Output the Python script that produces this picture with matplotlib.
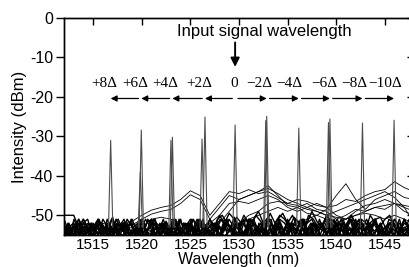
#optical spectra of the converted signals
#one spike per conversion order, noise floor and ASE humps underneath

import numpy as np
import matplotlib
matplotlib.use('Agg')
import matplotlib.pyplot as plt

plt.rcParams['font.family'] = ['Liberation Sans', 'DejaVu Sans']
plt.rcParams['axes.unicode_minus'] = False

#axis ranges
wl_min, wl_max = 1512, 1548
db_min, db_max = -55, 0

#converted signal peaks (nm, dBm)
peak_wl = [1516.8, 1519.95, 1523.15, 1526.5, 1529.6, 1532.85, 1536.15, 1539.35, 1542.7, 1545.95]
peak_db = [-31.0, -28.4, -30.2, -25.1, -27.1, -24.9, -27.9, -25.6, -26.6, -25.9]

#weaker peaks from the other traces sitting next to the main ones
peak2_wl = [1523.0, 1526.2, 1532.75, 1539.2, 1519.85]
peak2_db = [-31.0, -30.7, -26.0, -26.5, -39.0]

#order labels above the arrows
delta_labels = ['+8\u0394', '+6\u0394', '+4\u0394', '+2\u0394', '0',
                '\u22122\u0394', '\u22124\u0394', '\u22126\u0394', '\u22128\u0394', '\u221210\u0394']
delta_wl = [1516.15, 1519.35, 1522.4, 1525.9, 1529.5, 1532.1, 1535.2, 1538.75, 1541.85, 1545.05]

#noise floor traces, about 0.5 nm step from 1512 to 1548
noise_a = [-50, -50, -50, -53, -51, -54, -52, -55, -51, -53, -56, -52, -54, -51, -53, -55, -52, -54, -51, -56,
           -53, -52, -54, -51, -55, -53, -52, -56, -51, -54, -53, -52, -55, -51, -53, -54, -52, -56, -53, -51,
           -54, -52, -55, -53, -51, -54, -56, -52, -53, -51, -55, -52, -54, -53, -51, -56, -52, -54, -53, -51,
           -55, -52, -53, -54, -51, -56, -53, -52, -54, -51, -55, -53, -52]
noise_b = [-54, -52, -55, -51, -53, -52, -56, -51, -54, -53, -50.5, -55, -52, -53, -51, -54, -56, -52, -51, -53,
           -55, -51.5, -54, -52, -56, -53, -51, -55, -52, -54, -51, -53, -56, -52, -54, -50.5, -53, -55, -51, -52,
           -54, -56, -51, -53, -52, -55, -51, -54, -53, -56, -52, -51, -54, -53, -55, -51, -52, -56, -53, -54,
           -51, -55, -52, -53, -51, -54, -56, -52, -53, -55, -51, -54, -52]
noise_c = [-52, -55, -53, -51, -56, -52, -54, -51.5, -53, -55, -52, -51, -54, -56, -53, -52, -55, -51, -53, -54,
           -52, -56, -51, -55, -53, -52, -54, -51, -56, -53, -55, -52, -51, -54, -53, -56, -52, -51, -55, -53,
           -54, -52, -51, -56, -53, -55, -52, -54, -51, -53, -56, -52, -55, -51, -54, -53, -52, -56, -51, -55,
           -53, -54, -52, -51, -56, -53, -55, -52, -54, -51, -53, -56]
noise_d = [-55, -53, -52, -54, -51, -53, -55, -52, -56, -51, -54, -52, -53, -55, -51, -56, -52, -54, -53, -51,
           -55, -52, -54, -56, -51, -53, -52, -55, -54, -51, -56, -53, -52, -54, -51, -55, -52, -56, -53, -51,
           -54, -52, -55, -53, -56, -51, -52, -54, -53, -55, -51, -56, -52, -53, -54, -51, -55, -52, -56, -53,
           -51, -54, -52, -55, -53, -51, -56, -54, -52, -53, -55, -51, -54, -52]
noise_e = [-53, -56, -51, -54, -52, -55, -53, -51, -54, -56, -52, -53, -51, -55, -54, -52, -56, -53, -51, -54,
           -52, -55, -51, -53, -56, -52, -54, -51, -53, -55, -52, -56, -54, -51, -53, -52, -55, -51, -56, -54,
           -52, -53, -55, -51, -54, -52, -56, -53, -51, -55, -54, -52, -53, -56, -51, -54, -52, -55, -53, -51,
           -56, -52, -54, -53, -55, -51, -52, -56, -54, -53, -51]
noise_f = [-51, -54, -53, -56, -52, -51, -55, -53, -52, -54, -56, -51, -53, -52, -55, -54, -51, -53, -56, -52,
           -54, -51, -55, -52, -53, -56, -54, -51, -52, -55, -53, -54, -56, -51, -52, -53, -55, -54, -51, -56,
           -52, -53, -54, -51, -55, -52, -56, -53, -54, -51, -52, -55, -53, -56, -51, -54, -52, -53, -55, -51,
           -54, -56, -52, -53, -51, -55, -54, -52, -56, -53, -51, -54, -53, -55, -52]
noise_g = [-56, -53, -55, -52, -54, -56, -53, -51, -55, -52, -54, -53, -56, -52, -55, -53, -51, -54, -56, -52,
           -53, -55, -52, -54, -51, -56, -53, -55, -52, -54, -51, -53, -50, -52, -49.5, -51, -53, -50, -52, -51,
           -49, -52, -50.5, -53, -51, -49.5, -52, -50, -53, -51, -52, -49, -51.5, -53, -50, -52, -54, -51, -53,
           -50, -52, -51, -54, -50, -52, -53, -51, -50, -53, -52, -54, -51, -53]
noise_h = [-54, -56, -52, -55, -53, -54, -56, -52, -53, -55, -51, -54, -56, -53, -52, -55, -54, -51, -53, -56,
           -52, -54, -55, -53, -56, -52, -54, -51, -55, -53, -52, -54, -51, -50, -52, -53, -50.5, -52, -51, -53,
           -50, -51.5, -53, -49.5, -52, -50, -51, -53, -50.5, -52, -54, -50, -51, -53, -52, -50, -53, -51, -54,
           -52, -50, -53, -51, -52, -54, -51, -50.5, -53, -52, -51, -54, -52, -53, -51]
noise_i = [-55, -57, -53, -56, -54, -57, -52, -56, -55, -53, -57, -54, -56, -52, -55, -57, -53, -56, -54, -52,
           -57, -55, -53, -56, -54, -57, -52, -55, -56, -53, -57, -54, -52, -56, -55, -53, -57, -54, -56, -52,
           -55, -57, -53, -54, -56, -52, -57, -55, -53, -56, -54, -57, -52, -55, -56, -53, -57, -54, -55, -52,
           -56, -57, -53, -55, -54, -56, -52, -57, -55, -53, -56, -54, -57, -53, -55, -56, -52]
noise_j = [-57, -54, -56, -53, -57, -55, -52, -56, -54, -57, -53, -55, -56, -52, -57, -54, -55, -53, -56, -57,
           -52, -54, -56, -55, -53, -57, -54, -52, -56, -55, -57, -53, -54, -56, -52, -57, -55, -54, -53, -56,
           -57, -52, -55, -54, -56, -53, -57, -55, -52, -54, -56, -57, -53, -55, -54, -52, -56, -57, -54, -53,
           -55, -56, -52, -57, -54, -55, -53, -56, -57, -52, -54, -55, -56, -53, -57, -54, -55, -52, -56]
noise_k = [-53, -56, -55, -57, -52, -54, -57, -55, -53, -56, -54, -57, -52, -55, -56, -53, -57, -54, -55, -52,
           -56, -57, -54, -53, -55, -57, -52, -56, -54, -55, -57, -53, -56, -52, -54, -57, -55, -53, -56, -54,
           -52, -57, -55, -56, -53, -54, -57, -52, -55, -56, -54, -53, -57, -55, -52, -56, -54, -57, -53, -55,
           -56, -52, -54, -57, -55, -53, -56, -54, -57, -52, -55, -56, -53, -57, -54, -52, -56, -55, -57, -53,
           -54, -56, -52, -57]
noise_l = [-56, -52, -57, -54, -55, -53, -57, -56, -52, -54, -55, -57, -53, -56, -54, -52, -57, -55, -53, -56,
           -57, -54, -52, -55, -56, -53, -57, -54, -55, -52, -56, -57, -53, -54, -55, -56, -52, -57, -54, -53,
           -55, -56, -57, -52, -54, -55, -53, -56, -57, -52, -55, -54, -56, -53, -57, -55, -52, -54, -56, -57,
           -53, -55, -54, -52, -56, -57, -55, -53, -54, -56, -52, -57, -55, -53, -56, -54, -57, -52, -55, -56,
           -53, -57, -54, -55, -52, -56, -57, -53, -55]

#ASE humps, 1 nm step from 1512 to 1548
hump_a = [-54, -53, -54, -53, -52, -53, -52, -51.5, -50, -48.7, -48, -47.5, -46, -43.8, -45, -50, -47, -44, -44.5,
          -43.5, -44.5, -44, -45.5, -47, -47.5, -48.5, -49, -50, -50.5, -51, -50, -49, -48, -47.5, -47, -48, -49]
hump_b = [-55, -54, -53, -54, -53, -54, -53, -52.5, -51, -49.7, -49, -48.5, -47, -44.8, -46, -51, -48, -45, -46,
          -45, -44, -42.5, -45, -47.5, -48, -49.5, -50, -51, -52, -51, -50, -49.5, -50, -51, -50, -51, -52]
hump_c = [-54, -53, -54, -55, -53, -54, -53, -54, -55, -53, -54, -53, -54, -55, -53, -54, -52, -49, -46, -45,
          -44, -43.2, -44.5, -46, -47, -48, -47, -48, -47.5, -46, -46.5, -45, -44, -43.5, -41.5, -43, -44]
hump_d = [-55, -54, -53, -55, -54, -53, -54, -55, -53, -54, -55, -53, -54, -53, -55, -54, -53, -54, -55, -53,
          -54, -55, -53, -54, -52, -51, -50, -48.5, -45, -42, -46, -48.5, -46, -45, -44, -45.5, -46]
hump_e = [-53, -54, -55, -53, -54, -55, -53, -54, -53, -55, -54, -53, -55, -54, -53, -52, -50, -47, -46.5, -47,
          -46, -45, -46, -48, -49, -48, -49, -50, -49, -48, -47, -46, -45, -44, -45.5, -48, -52]
hump_f = [-54, -55, -53, -54, -55, -53, -54, -53, -55, -54, -53, -54, -55, -53, -54, -55, -53, -54, -52, -50,
          -49, -47, -46.5, -47, -46, -46.5, -47.5, -48, -50, -51, -49, -47.5, -47, -46, -47, -47.5, -48]
hump_g = [-55, -53, -54, -55, -54, -53, -55, -54, -53, -51, -50.5, -51, -52, -53, -55, -54, -53, -54, -53, -51,
          -50, -49, -48, -49, -48, -47, -48.5, -49, -51, -50, -48.5, -49, -48, -48.5, -47, -49, -50]

noise_traces = [noise_a, noise_b, noise_c, noise_d, noise_e, noise_f,
                noise_g, noise_h, noise_i, noise_j, noise_k, noise_l]
hump_traces = [hump_a, hump_b, hump_c, hump_d, hump_e, hump_f, hump_g]

fig = plt.figure(figsize=(4.09, 2.67), dpi=100)
ax = fig.add_axes([64 / 409, 32 / 267, 350 / 409, 217 / 267])

for tr in noise_traces:
    ax.plot(np.linspace(wl_min, wl_max, len(tr)), tr, color='black', lw=1.0)
for tr in hump_traces:
    ax.plot(np.linspace(wl_min, wl_max, len(tr)), tr, color='black', lw=0.6)

#spikes drawn as narrow triangles
for w, p in zip(peak_wl + peak2_wl, peak_db + peak2_db):
    ax.plot([w - 0.22, w, w + 0.22], [-53, p, -53], color='0.3', lw=0.8)

ax.set_xlim(wl_min, wl_max)
ax.set_ylim(db_min, db_max)
ax.set_xticks([1515, 1520, 1525, 1530, 1535, 1540, 1545])
ax.set_yticks([0, -10, -20, -30, -40, -50])
ax.tick_params(axis='x', direction='in', top=True, bottom=True, length=5, width=1.0,
               labelsize=11, pad=2)
ax.tick_params(axis='y', direction='out', left=True, right=False, length=6, width=1.0,
               labelsize=11.5, pad=2)
for s in ax.spines.values():
    s.set_linewidth(1.0)

#inward ticks on the right side
axr = ax.twinx()
axr.set_ylim(db_min, db_max)
axr.set_yticks([0, -10, -20, -30, -40, -50])
axr.tick_params(axis='y', direction='in', length=5, width=1.0, labelright=False)
for s in axr.spines.values():
    s.set_linewidth(1.0)

ax.set_xlabel('Wavelength (nm)', fontsize=11.5, labelpad=0)
ax.set_ylabel('Intensity (dBm)', fontsize=12, labelpad=2)

#input signal marker
ax.text(1532.6, -3.5, 'Input signal wavelength', fontsize=12, ha='center', va='center')
ax.annotate('', xy=(peak_wl[4], -12.4), xytext=(peak_wl[4], -6.2),
            arrowprops=dict(arrowstyle='-|>', color='black', lw=1.4, mutation_scale=13,
                            shrinkA=0, shrinkB=0))

#order labels
for lab, w in zip(delta_labels, delta_wl):
    ax.text(w, -16.6, lab, fontsize=11, family=['Liberation Serif', 'DejaVu Serif'],
            ha='center', va='center')

#arrows between neighbouring orders, outward from the input
for i in range(4):
    ax.annotate('', xy=(peak_wl[i], -20.4), xytext=(peak_wl[i + 1], -20.4),
                arrowprops=dict(arrowstyle='-|>', color='black', lw=0.9, mutation_scale=9,
                                shrinkA=2, shrinkB=0))
for i in range(4, 9):
    ax.annotate('', xy=(peak_wl[i + 1], -20.4), xytext=(peak_wl[i], -20.4),
                arrowprops=dict(arrowstyle='-|>', color='black', lw=0.9, mutation_scale=9,
                                shrinkA=2, shrinkB=0))

fig.savefig('out.png', dpi=100)
